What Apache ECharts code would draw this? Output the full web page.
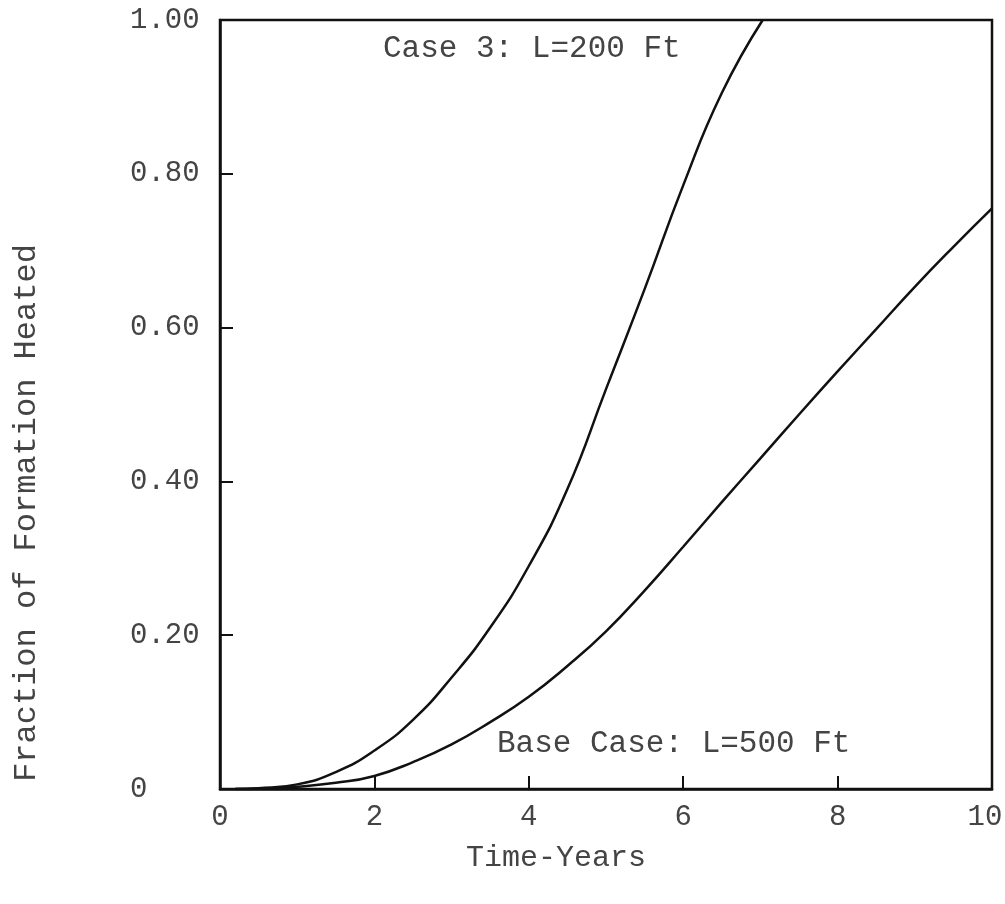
<!DOCTYPE html>
<html>
<head>
<meta charset="utf-8">
<script src="https://cdn.jsdelivr.net/npm/echarts@6/dist/echarts.min.js"></script>
<style>html,body{margin:0;padding:0;background:#fff}#c{width:1005px;height:904px}</style>
</head>
<body>
<div id="c"></div>
<script>
// Data
const case3X = [0.2, 0.5, 1.0, 1.5, 2.0, 2.5, 3.0, 3.5, 4.0, 4.5, 5.0, 5.5, 6.0, 6.5, 7.03];
const case3Y = [0, 0.001, 0.006, 0.022, 0.050, 0.090, 0.145, 0.210, 0.290, 0.390, 0.520, 0.650, 0.785, 0.905, 1.0];
const baseX = [0.2, 0.5, 1.0, 1.5, 2.0, 2.5, 3.0, 3.5, 4.0, 4.5, 5.0, 5.5, 6.0, 6.5, 7.0, 7.5, 8.0, 8.5, 9.0, 9.5, 10.0];
const baseY = [0, 0.0003, 0.003, 0.008, 0.017, 0.035, 0.058, 0.087, 0.120, 0.160, 0.205, 0.258, 0.315, 0.373, 0.430, 0.487, 0.543, 0.598, 0.653, 0.705, 0.755];
const xTicks = [0, 2, 4, 6, 8, 10];
const yTickLabels = ['0', '0.20', '0.40', '0.60', '0.80', '1.00'];
const case3Label = 'Case 3: L=200 Ft';
const baseLabel = 'Base Case: L=500 Ft';
const xTitle = 'Time-Years';
const yTitle = 'Fraction of Formation Heated';

const FONT = '"Liberation Mono", "DejaVu Sans Mono", monospace';
const TXT = '#444';

const chart = echarts.init(document.getElementById('c'));
chart.setOption({
  animation: false,
  backgroundColor: '#fff',
  grid: {left: 220, right: 13, top: 20, bottom: 115, outerBoundsMode: 'none', containLabel: false,
         show: true, borderColor: '#111', borderWidth: 2.5, backgroundColor: 'transparent'},
  xAxis: {
    type: 'value', min: 0, max: 10, interval: 2,
    axisLine: {show: true, lineStyle: {color: '#111', width: 2.5}},
    axisTick: {show: true, inside: true, length: 13, lineStyle: {color: '#111', width: 2}},
    axisLabel: {fontFamily: FONT, fontSize: 29, color: TXT, margin: 14,
      formatter: v => !xTicks.includes(v) ? '' : (v === 10 ? '{r|10}' : String(v)),
      rich: {r: {fontFamily: FONT, fontSize: 29, color: TXT, padding: [0, 14, 0, 0]}}},
    splitLine: {show: false}
  },
  yAxis: {
    type: 'value', min: 0, max: 1, interval: 0.2,
    axisLine: {show: true, lineStyle: {color: '#111', width: 2.5}},
    axisTick: {show: true, inside: true, length: 13, lineStyle: {color: '#111', width: 2}},
    axisLabel: {fontFamily: FONT, fontSize: 29, color: TXT, margin: 90, align: 'left',
      formatter: (v) => yTickLabels[Math.round(v / 0.2)]},
    splitLine: {show: false}
  },
  graphic: [
    {type: 'text', left: 383, top: 33, style: {text: case3Label, font: '31px ' + FONT, fill: TXT}},
    {type: 'text', left: 497, top: 728, style: {text: baseLabel, font: '31px ' + FONT, fill: TXT}},
    {type: 'text', x: 556, y: 858, style: {text: xTitle, font: '30px ' + FONT, fill: TXT, align: 'center', verticalAlign: 'middle'}},
    {type: 'text', x: 27, y: 513, rotation: Math.PI / 2, style: {text: yTitle, font: '32px ' + FONT, fill: TXT, align: 'center', verticalAlign: 'middle'}}
  ],
  series: [
    {type: 'line', name: 'Case 3', data: case3X.map((x, i) => [x, case3Y[i]]), smooth: 0.5, showSymbol: false,
     lineStyle: {color: '#111', width: 2.5}, clip: true},
    {type: 'line', name: 'Base Case', data: baseX.map((x, i) => [x, baseY[i]]), smooth: 0.5, showSymbol: false,
     lineStyle: {color: '#111', width: 2.5}, clip: true}
  ]
});
</script>
</body>
</html>
